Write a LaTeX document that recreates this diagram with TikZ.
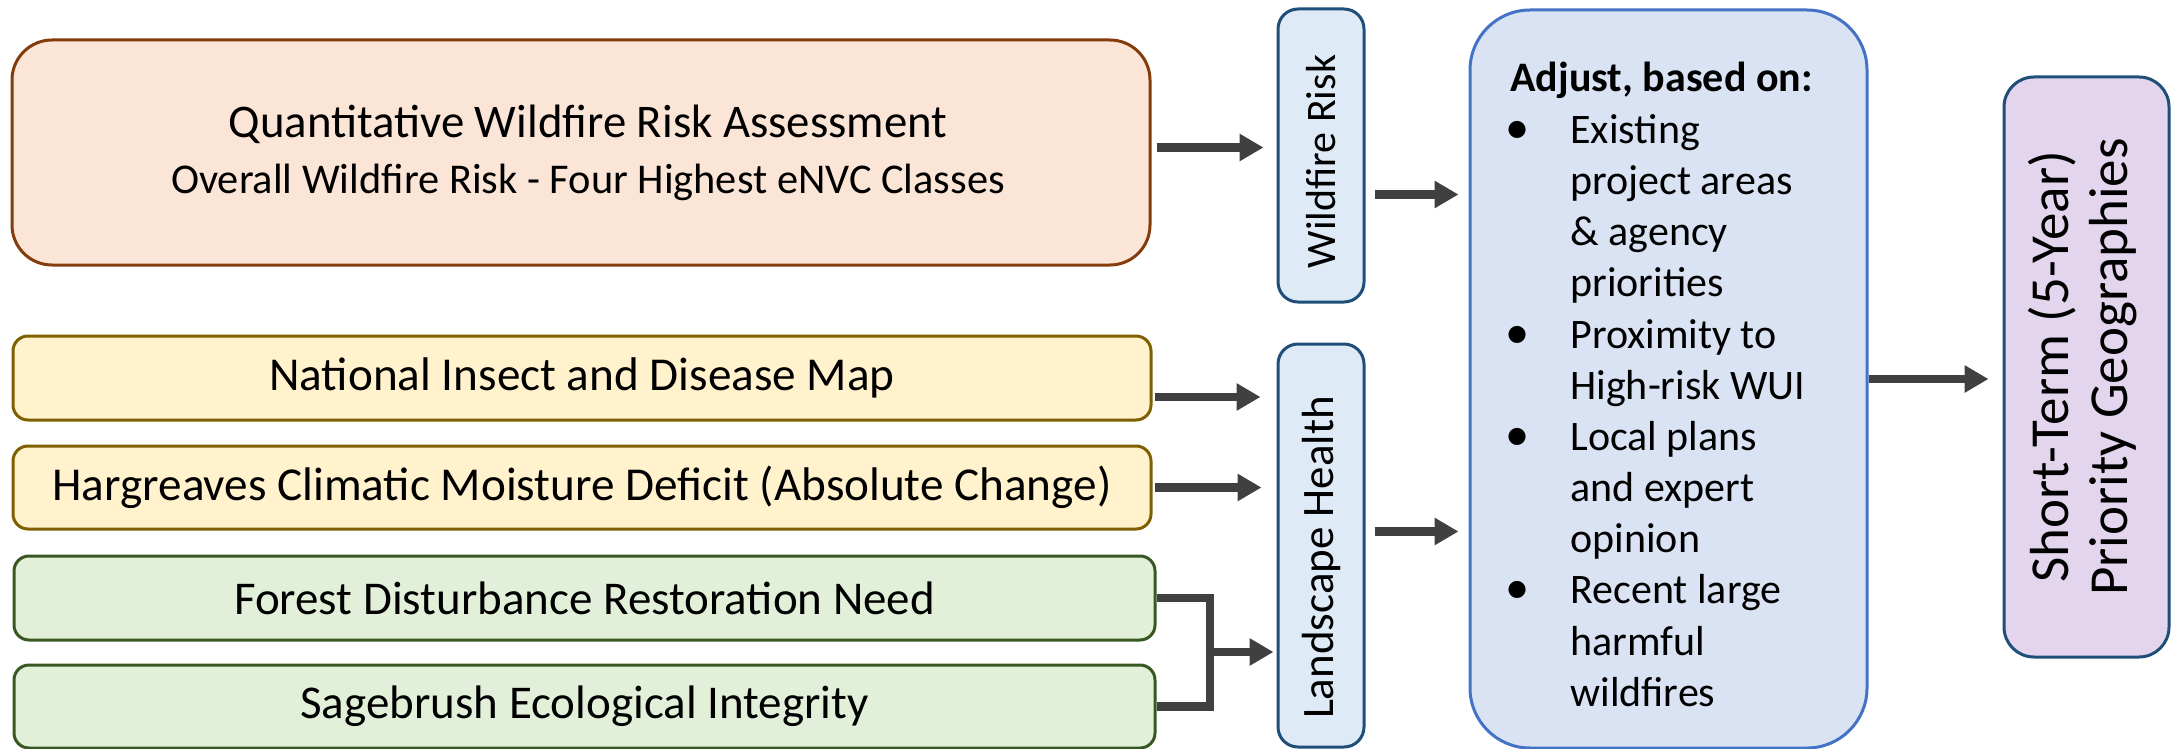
\documentclass[tikz,border=0pt]{standalone}
\usepackage{fontspec}
\setmainfont{Carlito}
\usepackage{graphicx}
\usetikzlibrary{arrows.meta}

\definecolor{peachfill}{HTML}{FBE5D6}
\definecolor{peachline}{HTML}{843C0C}
\definecolor{sandfill}{HTML}{FFF2CC}
\definecolor{sandline}{HTML}{7F6000}
\definecolor{sagefill}{HTML}{E2F0D9}
\definecolor{sageline}{HTML}{385723}
\definecolor{skyfill}{HTML}{DEEBF7}
\definecolor{navyline}{HTML}{1F4E79}
\definecolor{adjfill}{HTML}{DAE3F3}
\definecolor{adjline}{HTML}{4472C4}
\definecolor{lilacfill}{HTML}{E3D5ED}
\definecolor{arrowgray}{HTML}{404040}

\newcommand{\bitem}[1]{\makebox[30pt][l]{\hspace{-2.5pt}\scalebox{1.15}{\textbullet}}#1}
\newcommand{\bcont}[1]{\hspace*{30pt}#1}

\tikzset{
  box/.style={draw, line width=1.5pt, inner sep=0pt, align=center},
  riskbox/.style={box, draw=peachline, fill=peachfill, rounded corners=20pt},
  pestbox/.style={box, draw=sandline, fill=sandfill, rounded corners=7.5pt,
    font=\fontsize{23.6}{28}\selectfont},
  ecobox/.style={box, draw=sageline, fill=sagefill, rounded corners=7.5pt,
    font=\fontsize{23.5}{28}\selectfont},
  themebox/.style={box, draw=navyline, fill=skyfill, rounded corners=10pt},
  flow/.style={draw=arrowgray, line width=4.3pt,
    -{Triangle[length=12pt,width=13pt]}},
  link/.style={draw=arrowgray, line width=4.3pt, miter limit=4},
}

\begin{document}
\begin{tikzpicture}[x=0.5pt,y=0.5pt,yscale=-1,xscale=1]
\useasboundingbox (0,0) rectangle (2179,749);
%Inputs
\node[riskbox, minimum width=569pt, minimum height=112.5pt,
  font=\fontsize{21.2}{28}\selectfont] (qwra) at (581,152.5)
  {\hspace*{7pt}{\fontsize{23.4}{28}\selectfont Quantitative Wildfire Risk Assessment}\\
   \hspace*{7pt}Overall Wildfire Risk - Four Highest eNVC Classes};
\node[pestbox, minimum width=569pt, minimum height=42pt] (insect) at (582,378)
  {National Insect and Disease Map};
\node[pestbox, minimum width=569pt, minimum height=41.5pt] (cmd) at (582,487.5)
  {Hargreaves Climatic Moisture Deficit (Absolute Change)};
\node[ecobox, minimum width=570.5pt, minimum height=42pt] (forest) at (584.5,598)
  {Forest Disturbance Restoration Need};
\node[ecobox, minimum width=570.5pt, minimum height=41.5pt] (sage) at (584.5,706.5)
  {Sagebrush Ecological Integrity};
%Themes
\node[themebox, minimum width=43pt, minimum height=146.5pt] (wrisk) at (1321,155.5) {};
\node[inner sep=0pt, font=\fontsize{21}{25}\selectfont] (wrisktxt) at ([yshift=3pt]wrisk.center)
  {\rotatebox{90}{Wildfire Risk}};
\node[themebox, minimum width=43pt, minimum height=201.5pt] (lhealth) at (1321,545.5) {};
\node[inner sep=0pt, font=\fontsize{22.5}{27}\selectfont] (lhealthtxt) at ([yshift=6pt]lhealth.center)
  {\rotatebox{90}{Landscape Health}};
%Adjustment
\node[box, draw=adjline, fill=adjfill, rounded corners=30pt,
  minimum width=198.5pt, minimum height=369pt] (adjust) at (1668.5,379) {};
\node[anchor=base west, inner sep=0pt, font=\fontsize{21}{25.6}\selectfont]
  (adjtxt) at (1510,92)
  {\begin{tabular}[t]{@{}l@{}}
   \textbf{Adjust, based on:}\\
   \bitem{Existing}\\
   \bcont{project areas}\\
   \bcont{\& agency}\\
   \bcont{priorities}\\
   \bitem{Proximity to}\\
   \bcont{High-risk WUI}\\
   \bitem{Local plans}\\
   \bcont{and expert}\\
   \bcont{opinion}\\
   \bitem{Recent large}\\
   \bcont{harmful}\\
   \bcont{wildfires}
   \end{tabular}};
%Result
\node[box, draw=navyline, fill=lilacfill, rounded corners=15pt,
  minimum width=82.5pt, minimum height=290pt, font=\fontsize{27.5}{29.5}\selectfont] (prio) at (2086.5,367)
  {\rotatebox{90}{\begin{tabular}{@{}c@{}}Short-Term (5-Year)\\Priority Geographies\end{tabular}}};
%Arrows
\draw[flow, shorten <=2.5pt, shorten >=6.5pt] ([yshift=-2.5pt]qwra.east) -- ([yshift=-2.5pt]qwra.east -| wrisk.west);
\draw[flow, shorten <=4.5pt, shorten >=5pt] ([yshift=19.5pt]wrisk.east) -- ([yshift=19.5pt]wrisk.east -| adjust.west);
\draw[flow, shorten <=1pt, shorten >=8pt] ([yshift=9.5pt]insect.east) -- ([yshift=9.5pt]insect.east -| lhealth.west);
\draw[flow, shorten <=1pt, shorten >=7.5pt] (cmd.east) -- (cmd.east -| lhealth.west);
\coordinate (join) at (1210,652);
\draw[link] (forest.east) -| (join) |- (sage.east);
\draw[flow, shorten >=1.5pt] (join) -- (join -| lhealth.west);
\draw[flow, shorten <=4.5pt, shorten >=5pt] ([yshift=-7pt]lhealth.east) -- ([yshift=-7pt]lhealth.east -| adjust.west);
\draw[flow, shorten >=7pt] (adjust.east) -- (adjust.east -| prio.west);
\end{tikzpicture}
\end{document}
